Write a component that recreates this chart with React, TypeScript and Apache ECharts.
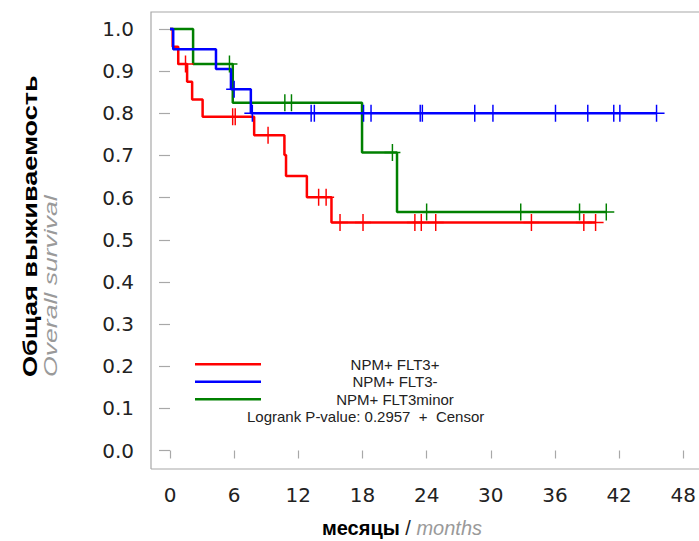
import React, { useEffect, useRef } from "react";
import * as echarts from "echarts";

// Kaplan–Meier step points (time in months, survival probability)
const redTimes = [0, 0.25, 0.77, 1.6, 2.07, 3.05, 7.87, 10.7, 10.85, 12.8, 15.1, 39.8];
const redSurv = [1, 0.958, 0.917, 0.875, 0.833, 0.792, 0.748, 0.701, 0.651, 0.601, 0.541, 0.541];
const blueTimes = [0, 0.3, 4.3, 5.7, 7.56, 45.5];
const blueSurv = [1, 0.952, 0.905, 0.857, 0.8, 0.8];
const greenTimes = [0, 2.16, 5.87, 17.96, 21.23, 40.8];
const greenSurv = [1, 0.917, 0.825, 0.707, 0.566, 0.566];

// Censored observations
const redCensorTimes = [1.45, 5.86, 6.1, 9.17, 13.9, 14.6, 15.9, 18.05, 22.9, 23.5, 24.85, 33.8, 38.7, 39.8];
const redCensorSurv = [0.917, 0.792, 0.792, 0.748, 0.601, 0.601, 0.541, 0.541, 0.541, 0.541, 0.541, 0.541, 0.541, 0.541];
const blueCensorTimes = [6.0, 7.7, 13.2, 13.5, 18.1, 18.8, 23.4, 23.6, 28.5, 30.2, 36.05, 39.07, 41.5, 42.07, 45.5];
const blueCensorSurv = [0.857, 0.8, 0.8, 0.8, 0.8, 0.8, 0.8, 0.8, 0.8, 0.8, 0.8, 0.8, 0.8, 0.8, 0.8];
const greenCensorTimes = [5.56, 10.74, 11.36, 20.8, 24.0, 32.8, 38.3, 40.8];
const greenCensorSurv = [0.917, 0.825, 0.825, 0.707, 0.566, 0.566, 0.566, 0.566];

const groupNames = ["NPM+ FLT3+", "NPM+ FLT3-", "NPM+ FLT3minor"];
const groupColors = ["#ff0000", "#0000ff", "#008000"];
const pValueText = "Logrank P-value: 0.2957  +  Censor";

const xTicks = [0, 6, 12, 18, 24, 30, 36, 42, 48];
const yTicks = [0, 0.1, 0.2, 0.3, 0.4, 0.5, 0.6, 0.7, 0.8, 0.9, 1.0];

const FONT = '"Liberation Sans", Arial, sans-serif';
const TICKFONT = '"DejaVu Sans", sans-serif';
const zip = (a: number[], b: number[]) => a.map((v, i) => [v, b[i]]);

export default function App() {
  const ref = useRef<HTMLDivElement>(null);
  useEffect(() => {
    if (!ref.current) return;
    const chart = echarts.init(ref.current, null, { renderer: "svg" });
    const steps = [zip(redTimes, redSurv), zip(blueTimes, blueSurv), zip(greenTimes, greenSurv)];
    const censors = [
      zip(redCensorTimes, redCensorSurv),
      zip(blueCensorTimes, blueCensorSurv),
      zip(greenCensorTimes, greenCensorSurv),
    ];
    const order = [0, 2, 1];
    const lineSeries = order.map((g) => ({
      type: "line",
      name: groupNames[g],
      data: steps[g],
      step: "end",
      showSymbol: false,
      symbol: "none",
      clip: false,
      lineStyle: { color: groupColors[g], width: 2.5 },
      z: 3,
    }));
    const censorSeries = order.map((g) => ({
      type: "scatter",
      name: groupNames[g] + " censor",
      data: censors[g],
      symbol: "path://M8,0L8,17M0,8.5L16,8.5",
      symbolSize: [16, 17],
      clip: false,
      itemStyle: { color: "rgba(0,0,0,0)", borderColor: groupColors[g], borderWidth: 1.5, opacity: 1 },
      z: 4,
    }));

    const legendY = [364.3, 381.7, 399.3];
    const legendGraphics: any[] = [];
    groupNames.forEach((name, i) => {
      legendGraphics.push({
        type: "line",
        shape: { x1: 195, y1: legendY[i], x2: 261, y2: legendY[i] },
        style: { stroke: groupColors[i], lineWidth: 2.5 },
      });
      legendGraphics.push({
        type: "text",
        x: 395,
        y: legendY[i],
        style: {
          text: name,
          font: `15px ${FONT}`,
          fill: "#222",
          align: "center",
          textAlign: "center",
          verticalAlign: "middle",
          textVerticalAlign: "middle",
        },
      });
    });
    legendGraphics.push({
      type: "text",
      x: 247,
      y: 416.7,
      style: {
        text: pValueText,
        font: `15px ${FONT}`,
        fill: "#222",
        align: "left",
        textAlign: "left",
        verticalAlign: "middle",
        textVerticalAlign: "middle",
      },
    });

    chart.setOption({
      animation: false,
      backgroundColor: "#fff",
      grid: { left: 170, top: 29, width: 518.3, height: 421.5, containLabel: false },
      xAxis: {
        type: "value",
        min: xTicks[0],
        max: xTicks[xTicks.length - 1],
        interval: 6,
        offset: 18.5,
        axisLine: { show: false },
        axisTick: { show: true, length: 8, lineStyle: { color: "#a8a8a8", width: 1.2 } },
        axisLabel: { fontSize: 20, color: "#222", fontFamily: TICKFONT, margin: 16 },
        splitLine: { show: false },
      },
      yAxis: {
        type: "value",
        min: yTicks[0],
        max: yTicks[yTicks.length - 1],
        interval: 0.1,
        offset: 19,
        axisLine: { show: false },
        axisTick: { show: true, length: 11, lineStyle: { color: "#a8a8a8", width: 1.2 } },
        axisLabel: {
          fontSize: 20,
          color: "#222",
          fontFamily: TICKFONT,
          margin: 17,
          formatter: (v: number) => v.toFixed(1),
        },
        splitLine: { show: false },
      },
      graphic: [
        {
          type: "polyline",
          shape: { points: [[151, 469], [151, 12], [702, 12]] },
          style: { stroke: "#a8a8a8", lineWidth: 1.2, fill: "none" },
          z: 1,
        },
        {
          type: "line",
          shape: { x1: 151, y1: 469, x2: 702, y2: 469 },
          style: { stroke: "#a8a8a8", lineWidth: 1.2 },
          z: 1,
        },
        ...legendGraphics,
        {
          type: "text",
          x: 30,
          y: 377,
          rotation: Math.PI / 2,
          scaleX: 1.29,
          style: {
            text: "Общая выживаемость",
            font: `bold 21px ${FONT}`,
            fill: "#000",
            align: "left",
            textAlign: "left",
            verticalAlign: "middle",
            textVerticalAlign: "middle",
          },
        },
        {
          type: "text",
          x: 50,
          y: 377,
          rotation: Math.PI / 2,
          scaleX: 1.4,
          style: {
            text: "Overall survival",
            font: `italic 19px ${FONT}`,
            fill: "#9a9a9a",
            align: "left",
            textAlign: "left",
            verticalAlign: "middle",
            textVerticalAlign: "middle",
          },
        },
        {
          type: "text",
          x: 402,
          y: 528,
          style: {
            text: "{a|месяцы }{c|/ }{b|months}",
            align: "center",
            textAlign: "center",
            verticalAlign: "middle",
            textVerticalAlign: "middle",
            rich: {
              a: { font: `bold 20px ${FONT}`, fill: "#000" },
              c: { font: `20px ${FONT}`, fill: "#222" },
              b: { font: `italic 20px ${FONT}`, fill: "#9a9a9a" },
            },
          },
        },
      ],
      series: [...lineSeries, ...censorSeries],
    });
    return () => chart.dispose();
  }, []);
  return (
    <div
      ref={ref}
      style={{ position: "absolute", left: 0, top: 0, width: 699, height: 541, background: "#fff" }}
    />
  );
}
